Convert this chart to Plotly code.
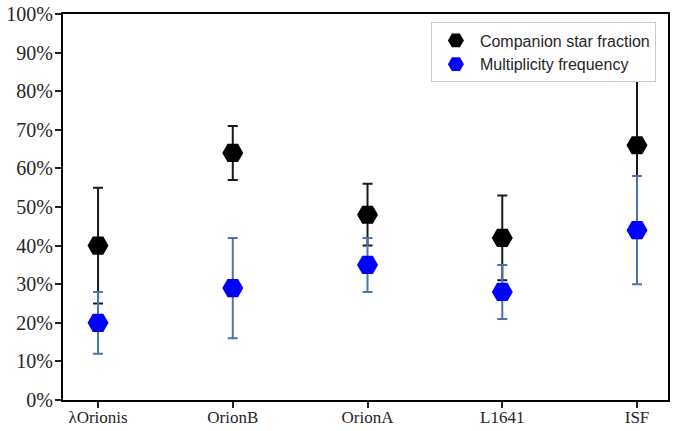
import plotly.graph_objects as go

categories = ["λOrionis", "OrionB", "OrionA", "L1641", "ISF"]
companion = [40, 64, 48, 42, 66]
companion_hi = [55, 71, 56, 53, 92]
companion_lo = [25, 57, 40, 31, 45]
multiplicity = [20, 29, 35, 28, 44]
multiplicity_hi = [28, 42, 42, 35, 58]
multiplicity_lo = [12, 16, 28, 21, 30]
yticks = list(range(0, 101, 10))

xs = list(range(len(categories)))

fig = go.Figure()
fig.add_trace(go.Scatter(
    x=xs, y=companion, mode="markers", name="Companion star fraction",
    marker=dict(symbol="hexagon2", size=21, color="black"),
    error_y=dict(type="data", symmetric=False,
                 array=[h - v for h, v in zip(companion_hi, companion)],
                 arrayminus=[v - l for v, l in zip(companion, companion_lo)],
                 color="#1a1a1a", thickness=2, width=5),
))
fig.add_trace(go.Scatter(
    x=xs, y=multiplicity, mode="markers", name="Multiplicity frequency",
    marker=dict(symbol="hexagon2", size=21, color="#0000ff"),
    error_y=dict(type="data", symmetric=False,
                 array=[h - v for h, v in zip(multiplicity_hi, multiplicity)],
                 arrayminus=[v - l for v, l in zip(multiplicity, multiplicity_lo)],
                 color="#4c72b0", thickness=2, width=5),
))

axis_common = dict(showline=True, linecolor="black", linewidth=2, mirror=True,
                   ticks="outside", ticklen=6, tickwidth=2, tickcolor="#222",
                   showgrid=False, zeroline=False, automargin=False)

fig.update_xaxes(tickmode="array", tickvals=xs, ticktext=categories,
                 range=[-0.26, 4.23], ticklabelstandoff=-5,
                 tickfont=dict(family="Liberation Serif", size=17, color="#262626"),
                 **axis_common)
fig.update_yaxes(tickmode="array", tickvals=yticks,
                 ticktext=[f"{t}%" for t in yticks],
                 range=[0, 100], ticklabelstandoff=-2,
                 tickfont=dict(family="Liberation Serif", size=20, color="#262626"),
                 **axis_common)

fig.update_layout(
    width=678, height=431,
    margin=dict(l=63, r=10, t=14, b=31),
    plot_bgcolor="white", paper_bgcolor="white",
    showlegend=True,
    legend=dict(x=0.98, y=0.978, xanchor="right", yanchor="top",
                bgcolor="white", bordercolor="#cccccc", borderwidth=1,
                font=dict(family="Liberation Sans", size=16, color="#262626"),
                itemsizing="trace", itemwidth=38, tracegroupgap=0),
)

fig.write_html("out.html")
